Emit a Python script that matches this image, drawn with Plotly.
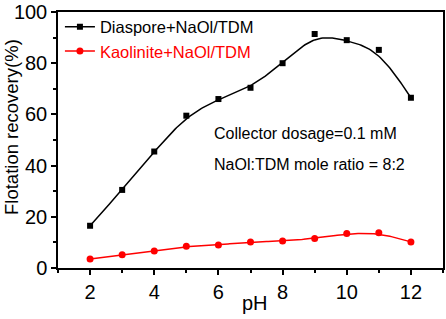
import numpy as np
import plotly.graph_objects as go

ph = [2, 3, 4, 5, 6, 7, 8, 9, 10, 11, 12]
diaspore = [16.5, 30.5, 45.5, 59.5, 66.0, 70.4, 80.0, 91.4, 89.0, 85.2, 66.5]
kaolinite = [3.5, 5.2, 6.6, 8.5, 9.0, 10.2, 10.5, 11.5, 13.5, 13.8, 10.2]
x_ticks = [2, 4, 6, 8, 10, 12]
y_ticks = [0, 20, 40, 60, 80, 100]

FONT = "Liberation Sans, Arial, sans-serif"


def bspline(xs, ys, n=20):
    """Uniform cubic B-spline with the data as control points (clamped ends)."""
    px = np.concatenate([[xs[0]] * 2, xs, [xs[-1]] * 2]).astype(float)
    py = np.concatenate([[ys[0]] * 2, ys, [ys[-1]] * 2]).astype(float)
    outx, outy = [], []
    t = np.linspace(0, 1, n, endpoint=False)
    b0 = (1 - t) ** 3 / 6
    b1 = (3 * t ** 3 - 6 * t ** 2 + 4) / 6
    b2 = (-3 * t ** 3 + 3 * t ** 2 + 3 * t + 1) / 6
    b3 = t ** 3 / 6
    for i in range(len(px) - 3):
        outx.extend(b0 * px[i] + b1 * px[i + 1] + b2 * px[i + 2] + b3 * px[i + 3])
        outy.extend(b0 * py[i] + b1 * py[i + 1] + b2 * py[i + 2] + b3 * py[i + 3])
    outx.append(xs[-1])
    outy.append(ys[-1])
    return outx, outy


fig = go.Figure()
for ys, color, sym, size, name in [
    (diaspore, "black", "square", 6, "Diaspore+NaOl/TDM"),
    (kaolinite, "red", "circle", 7, "<span style='color:red'>Kaolinite+NaOl/TDM</span>"),
]:
    cx, cy = bspline(ph, ys)
    fig.add_trace(go.Scatter(
        x=cx, y=cy, mode="lines", line=dict(color=color, width=1.5),
        showlegend=False, hoverinfo="skip",
    ))
    fig.add_trace(go.Scatter(
        x=ph, y=ys, mode="markers", showlegend=False,
        marker=dict(symbol=sym, size=size, color=color),
    ))
    # legend proxy (no data points)
    fig.add_trace(go.Scatter(
        x=[None], y=[None], mode="lines+markers", name=name,
        line=dict(color=color, width=1.5),
        marker=dict(symbol=sym, size=size, color=color),
    ))

axis_common = dict(
    showline=True, linecolor="black", linewidth=1.5, mirror=True,
    ticks="outside", ticklen=5, tickwidth=1.5, tickcolor="black",
    showgrid=False, zeroline=False,
    tickfont=dict(family=FONT, size=20, color="black"),
)
fig.update_xaxes(
    range=[1, 13], tickvals=x_ticks,
    minor=dict(ticks="outside", ticklen=3, tickwidth=1.5, tickcolor="black", dtick=1, tick0=1),
    **axis_common,
)
fig.update_yaxes(
    range=[0, 100], tickvals=y_ticks,
    minor=dict(ticks="outside", ticklen=3, tickwidth=1.5, tickcolor="black", dtick=10, tick0=0),
    **axis_common,
)

# axis titles
fig.add_annotation(x=(11 - 58) / 385, y=(268 - 127) / 256, xref="paper", yref="paper",
                   xanchor="center", yanchor="middle", textangle=-90,
                   text="Flotation recovery(%)", showarrow=False,
                   font=dict(family=FONT, size=18.5, color="black"))
fig.add_annotation(x=(255 - 58) / 385, y=-(303 - 268) / 256, xref="paper", yref="paper",
                   xanchor="center", yanchor="middle",
                   text="pH", showarrow=False,
                   font=dict(family=FONT, size=20, color="black"))

fig.add_annotation(x=0.4, y=0.527, xref="paper", yref="paper", xanchor="left", yanchor="middle",
                   text="Collector dosage=0.1 mM", showarrow=False,
                   font=dict(family=FONT, size=16, color="black"))
fig.add_annotation(x=0.4, y=0.406, xref="paper", yref="paper", xanchor="left", yanchor="middle",
                   text="NaOl:TDM mole ratio = 8:2", showarrow=False,
                   font=dict(family=FONT, size=16, color="black"))

fig.update_layout(
    width=446, height=319,
    margin=dict(l=58, r=3, t=12, b=51, autoexpand=False),
    paper_bgcolor="white", plot_bgcolor="white",
    showlegend=True,
    legend=dict(x=0.005, y=1.01, xanchor="left", yanchor="top",
                bgcolor="rgba(0,0,0,0)", font=dict(family=FONT, size=16.5, color="black"),
                itemwidth=30, tracegroupgap=0),
)

fig.write_html("out.html", config={"displayModeBar": False},
               post_script="document.body.style.margin='0';")
